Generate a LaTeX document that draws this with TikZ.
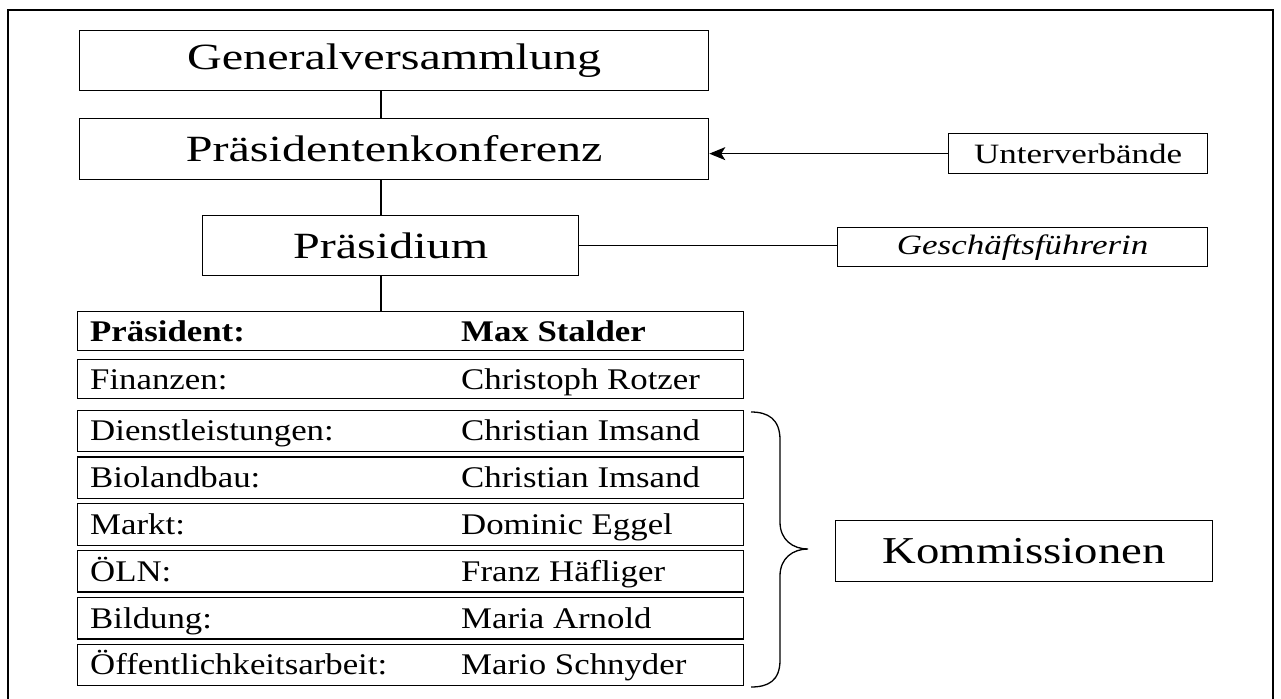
\documentclass[tikz,border=0pt]{standalone}
\usepackage{fontspec}
\setmainfont{Liberation Serif}
\usetikzlibrary{arrows.meta,calc}
\newcommand{\bigtxt}[1]{{\fontsize{37}{40}\selectfont\scalebox{1.3}[1]{#1}}}
\newcommand{\midtxt}[1]{{\fontsize{28}{30}\selectfont\scalebox{1.25}[1]{#1}}}
\newcommand{\komtxt}[1]{{\fontsize{38}{40}\selectfont\scalebox{1.23}[1]{#1}}}
\newcommand{\rowtxt}[1]{{\fontsize{30}{32}\selectfont\scalebox{1.16}[1]{#1}}}
\tikzset{
  box/.style={draw, line width=1.3pt, rectangle, inner sep=0pt, anchor=north west},
  rowlabel/.style={anchor=base west, inner sep=0pt},
  conn/.style={line width=1.3pt},
}
\begin{document}
\begin{tikzpicture}[x=1pt,y=-1pt]
\useasboundingbox (0,0) rectangle (1281,698);
\draw[line width=2.6pt] (8,10) rectangle (1273,712);
\coordinate (cx) at (381,0);
% top hierarchy
\node[box, minimum width=629pt, minimum height=60pt] (gen) at (79,30) {\bigtxt{Generalversammlung}};
\node[box, minimum width=629pt, minimum height=61pt] (pk) at (79,118) {\bigtxt{Präsidentenkonferenz}};
\node[box, minimum width=376pt, minimum height=60pt] (pr) at (202,215) {\bigtxt{Präsidium}};
\node[box, minimum width=259pt, minimum height=40pt] (unt) at (948,133) {\midtxt{Unterverbände}};
\node[box, minimum width=370pt, minimum height=39pt] (gf) at (837,227) {\midtxt{\itshape Geschäftsführerin}};
\node[box, minimum width=377pt, minimum height=61pt] (kom) at (835,520) {\komtxt{Kommissionen}};
% rows
\node[box, minimum width=666pt, minimum height=39pt] (r0) at (77,311) {};
\node[box, minimum width=666pt, minimum height=39pt] (r1) at (77,359) {};
\foreach \i/\y in {2/409.5,3/456.3,4/503.1,5/549.9,6/596.7,7/643.5}{
  \node[box, minimum width=666pt, minimum height=41.5pt] (r\i) at (77,\y) {};
}
\node[rowlabel] at ($(r0.west)+(13,10)$) {\rowtxt{\bfseries Präsident:}};
\node[rowlabel] at ($(r0.west)+(384,10)$) {\rowtxt{\bfseries Max Stalder}};
\node[rowlabel] at ($(r1.west)+(13,10)$) {\rowtxt{Finanzen:}};
\node[rowlabel] at ($(r1.west)+(384,10)$) {\rowtxt{Christoph Rotzer}};
\node[rowlabel] at ($(r2.west)+(13,10)$) {\rowtxt{Dienstleistungen:}};
\node[rowlabel] at ($(r2.west)+(384,10)$) {\rowtxt{Christian Imsand}};
\node[rowlabel] at ($(r3.west)+(13,10)$) {\rowtxt{Biolandbau:}};
\node[rowlabel] at ($(r3.west)+(384,10)$) {\rowtxt{Christian Imsand}};
\node[rowlabel] at ($(r4.west)+(13,10)$) {\rowtxt{Markt:}};
\node[rowlabel] at ($(r4.west)+(384,10)$) {\rowtxt{Dominic Eggel}};
\node[rowlabel] at ($(r5.west)+(13,10)$) {\rowtxt{ÖLN:}};
\node[rowlabel] at ($(r5.west)+(384,10)$) {\rowtxt{Franz Häfliger}};
\node[rowlabel] at ($(r6.west)+(13,10)$) {\rowtxt{Bildung:}};
\node[rowlabel] at ($(r6.west)+(384,10)$) {\rowtxt{Maria Arnold}};
\node[rowlabel] at ($(r7.west)+(13,10)$) {\rowtxt{Öffentlichkeitsarbeit:}};
\node[rowlabel] at ($(r7.west)+(384,10)$) {\rowtxt{Mario Schnyder}};
% connectors
\draw[conn] (gen.south -| cx) -- (pk.north -| cx);
\draw[conn] (pk.south -| cx) -- (pr.north -| cx);
\draw[conn] (pr.south -| cx) -- (r0.north -| cx);
\draw[conn] (pr.east) -- (pr.east -| gf.west);
\draw[conn, -{Stealth[length=16pt,width=13pt,inset=4pt]}] (unt.west) -- (unt.west -| pk.east);
% brace
\draw[line width=1.3pt] (751,412) .. controls (768,412) and (780,419) .. (780,440) -- (780,522)
  .. controls (780,540) and (793,549) .. (808,549)
  .. controls (793,549) and (780,558) .. (780,576) -- (780,660)
  .. controls (780,681) and (768,687) .. (751,687);
\end{tikzpicture}
\end{document}
